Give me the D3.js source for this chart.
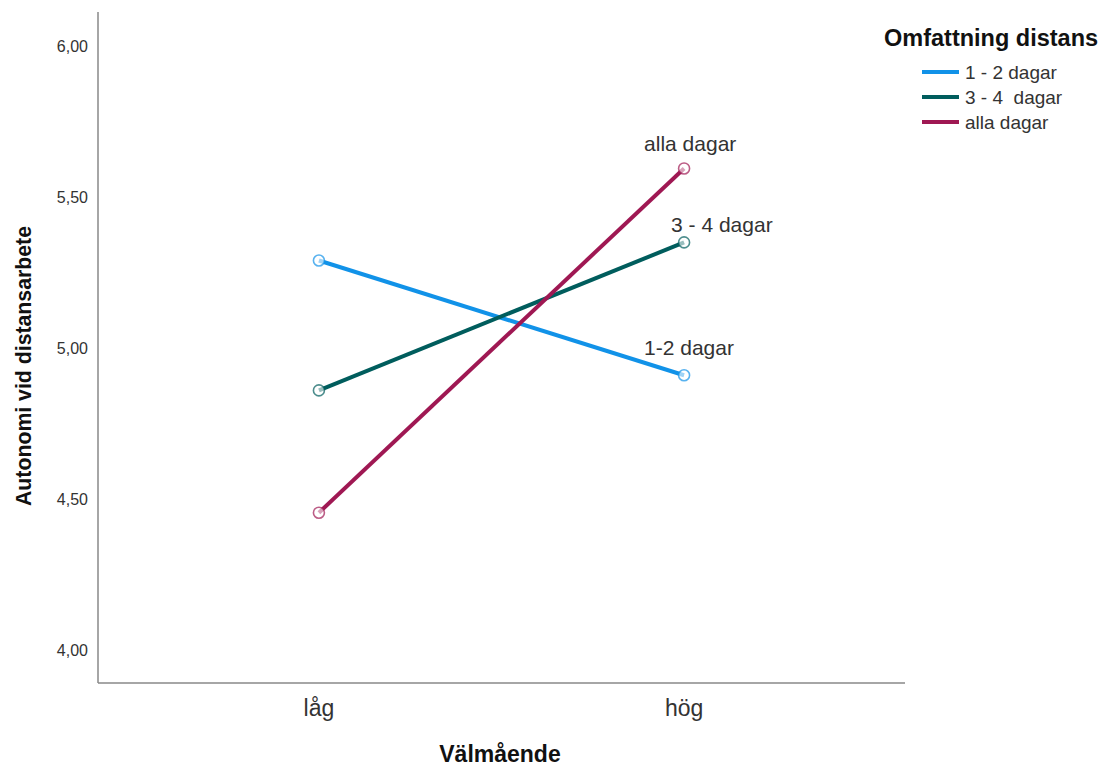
<!DOCTYPE html>
<html><head><meta charset="utf-8">
<script src="https://cdn.jsdelivr.net/npm/d3@7"></script>
<style>body{margin:0;background:#fff;} text{font-family:"Liberation Sans",Arial,sans-serif;}</style>
</head><body>
<svg id="chart" width="1110" height="769"></svg>
<script>
const categories = ["låg", "hög"];
const seriesNames = ["1 - 2 dagar", "3 - 4  dagar", "alla dagar"];
const seriesValues = [
  [5.29, 4.91],
  [4.86, 5.35],
  [4.455, 5.595]
];
const seriesColors = ["#1192e8", "#005d5d", "#9f1853"];
const endLabels = ["1-2 dagar", "3 - 4 dagar", "alla dagar"];
const yTicks = [4.0, 4.5, 5.0, 5.5, 6.0];

const svg = d3.select("#chart");
const plotL = 98, plotR = 905, plotT = 12, plotB = 683;

const x = d3.scalePoint().domain(categories).range([plotL, plotR]).padding(0.605);
const y = d3.scaleLinear().domain([3.891, 6.113]).range([plotB, plotT]);

// axes
svg.append("line").attr("x1", plotL).attr("x2", plotL).attr("y1", plotT).attr("y2", plotB)
  .attr("stroke", "#888").attr("stroke-width", 1.5);
svg.append("line").attr("x1", plotL).attr("x2", plotR).attr("y1", plotB).attr("y2", plotB)
  .attr("stroke", "#888").attr("stroke-width", 1.5);

const fmt = v => v.toFixed(2).replace(".", ",");
svg.selectAll(".ytick").data(yTicks).enter().append("text")
  .attr("x", 88).attr("y", d => y(d) + 6)
  .attr("text-anchor", "end").attr("font-size", 16).attr("fill", "#333")
  .text(fmt);

svg.selectAll(".xtick").data(categories).enter().append("text")
  .attr("x", d => x(d)).attr("y", 716)
  .attr("text-anchor", "middle").attr("font-size", 23).attr("fill", "#333")
  .text(d => d);

svg.append("text").attr("x", 500).attr("y", 762).attr("text-anchor", "middle")
  .attr("font-size", 23).attr("font-weight", "bold").attr("fill", "#111").text("Välmående");

svg.append("text").attr("transform", "translate(31,366) rotate(-90)").attr("text-anchor", "middle")
  .attr("font-size", 22).attr("font-weight", "bold").attr("fill", "#111")
  .attr("textLength", 280).attr("lengthAdjust", "spacingAndGlyphs")
  .text("Autonomi vid distansarbete");

// lines
const line = d3.line().x((d, i) => x(categories[i])).y(d => y(d));
seriesValues.forEach((vals, s) => {
  svg.append("path").datum(vals).attr("d", line).attr("fill", "none")
    .attr("stroke", seriesColors[s]).attr("stroke-width", 4);
  svg.selectAll(".pt" + s).data(vals).enter().append("circle")
    .attr("cx", (d, i) => x(categories[i])).attr("cy", d => y(d)).attr("r", 5.5)
    .attr("fill", "#fff").attr("fill-opacity", 0.6)
    .attr("stroke", seriesColors[s]).attr("stroke-opacity", 0.7).attr("stroke-width", 1.6);
});

// end labels
const labelDx = [-40, -13, -40];
const labelDy = [-20, -10, -17];
seriesValues.forEach((vals, s) => {
  svg.append("text").attr("x", x(categories[1]) + labelDx[s]).attr("y", y(vals[1]) + labelDy[s])
    .attr("font-size", 21).attr("fill", "#333")
    .text(endLabels[s]);
});

// legend
svg.append("text").attr("x", 884).attr("y", 46).attr("font-size", 23.5).attr("font-weight", "bold")
  .attr("fill", "#111").text("Omfattning distans");
seriesNames.forEach((n, i) => {
  const ly = 72 + i * 25;
  svg.append("line").attr("x1", 922).attr("x2", 959).attr("y1", ly).attr("y2", ly)
    .attr("stroke", seriesColors[i]).attr("stroke-width", 4);
  svg.append("text").attr("x", 965).attr("y", ly + 7).attr("font-size", 19).attr("fill", "#333")
    .style("white-space", "pre").text(n);
});
</script>
</body></html>
